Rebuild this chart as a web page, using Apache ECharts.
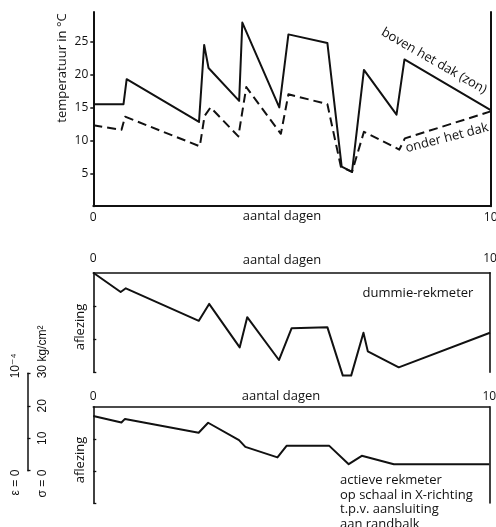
<!DOCTYPE html>
<html><head><meta charset="utf-8">
<script src="https://cdn.jsdelivr.net/npm/echarts@6/dist/echarts.min.js"></script>
<style>html,body{margin:0;padding:0;background:#fff}#c{width:496px;height:527px}</style>
</head><body><div id="c"></div>
<script>
// ---- data ----
const daysBoven = [0, 0.76, 0.84, 2.66, 2.79, 2.9, 3.67, 3.75, 4.68, 4.91, 5.89, 6.25, 6.51, 6.81, 7.63, 7.83, 10];
const tempBoven = [15.5, 15.5, 19.3, 12.8, 24.5, 21.0, 16.0, 27.9, 15.0, 26.1, 24.8, 6.0, 5.2, 20.7, 13.9, 22.3, 14.6];
const daysOnder = [0, 0.71, 0.8, 2.68, 2.8, 2.95, 3.65, 3.85, 4.72, 4.91, 5.89, 6.23, 6.51, 6.81, 7.7, 7.84, 10];
const tempOnder = [12.3, 11.6, 13.6, 9.1, 13.7, 15.0, 10.6, 18.1, 11.0, 17.0, 15.5, 6.0, 5.2, 11.3, 8.6, 10.3, 14.4];
const daysDummie = [0, 0.69, 0.82, 2.66, 2.92, 3.69, 3.88, 4.68, 5.0, 5.9, 6.29, 6.5, 6.81, 6.92, 7.7, 10];
const readDummie = [0, 5.8, 4.7, 14.5, 9.4, 22.5, 13.4, 26.3, 16.7, 16.4, 31.0, 31.0, 18.1, 23.7, 28.5, 18.1];
const daysActief = [0, 0.71, 0.8, 2.66, 2.9, 3.68, 3.84, 4.65, 4.88, 5.96, 6.45, 6.78, 7.59, 10];
const readActief = [2.9, 4.9, 3.8, 8.1, 5.0, 10.4, 12.5, 15.8, 12.2, 12.2, 17.9, 15.3, 17.9, 17.9];
const tempTicks = [5, 10, 15, 20, 25];
const dayTicks = [0, 10];
const readTicks = [10, 20, 30];
const scaleTicks = [0, 10, 20, 30];
const scaleLabels = ['σ = 0', '10', '20', '30 kg/cm²'];

const INK = '#111';
const FONT = 'Open Sans';
const zip = (a, b) => a.map((v, i) => [v, b[i]]);

const chart = echarts.init(document.getElementById('c'));

const line = (w) => ({ show: true, onZero: false, lineStyle: { color: INK, width: w } });
const noSplit = { show: false };

const option = {
  animation: false,
  backgroundColor: '#fff',
  grid: [
    { left: 93.3, top: 12, width: 397.4, height: 194.2, outerBoundsMode: 'none' },
    { left: 93.3, top: 272.7, width: 396.7, height: 99.6, outerBoundsMode: 'none' },
    { left: 93.3, top: 406.7, width: 396, height: 96.3, outerBoundsMode: 'none' },
    { left: 27.5, top: 373.3, width: 10, height: 97.4, outerBoundsMode: 'none' }
  ],
  xAxis: [
    { gridIndex: 0, type: 'value', min: 0, max: 10, position: 'bottom', axisLine: line(2), splitLine: noSplit,
      axisTick: { show: false },
      axisLabel: { customValues: dayTicks, color: INK, fontFamily: FONT, fontSize: 12, margin: 5 } },
    { gridIndex: 1, type: 'value', min: 0, max: 10, position: 'top', axisLine: line(1.6), splitLine: noSplit,
      axisTick: { show: false },
      axisLabel: { customValues: dayTicks, color: INK, fontFamily: FONT, fontSize: 12, margin: 8 } },
    { gridIndex: 2, type: 'value', min: 0, max: 10, position: 'top', axisLine: line(1.6), splitLine: noSplit,
      axisTick: { show: false },
      axisLabel: { customValues: dayTicks, color: INK, fontFamily: FONT, fontSize: 12, margin: 4 } },
    { gridIndex: 3, type: 'value', min: 0, max: 1, show: false }
  ],
  yAxis: [
    { gridIndex: 0, type: 'value', min: 0, max: 29.5, position: 'left', axisLine: line(2), splitLine: noSplit,
      axisTick: { customValues: tempTicks, length: 3, lineStyle: { color: INK, width: 1.5 } },
      axisLabel: { customValues: tempTicks, color: INK, fontFamily: FONT, fontSize: 12, margin: 5 } },
    { gridIndex: 0, type: 'value', min: 0, max: 29.5, position: 'right', axisLine: line(2), splitLine: noSplit,
      axisTick: { show: false }, axisLabel: { show: false } },
    { gridIndex: 1, type: 'value', min: 0, max: 30, inverse: true, position: 'left', axisLine: line(1.6), splitLine: noSplit,
      axisTick: { customValues: readTicks, inside: true, length: 3, lineStyle: { color: INK, width: 1.3 } },
      axisLabel: { show: false } },
    { gridIndex: 1, type: 'value', min: 0, max: 30, inverse: true, position: 'right', axisLine: line(1.6), splitLine: noSplit,
      axisTick: { show: false }, axisLabel: { show: false } },
    { gridIndex: 2, type: 'value', min: 0, max: 30, inverse: true, position: 'left', axisLine: line(1.6), splitLine: noSplit,
      axisTick: { customValues: readTicks, inside: true, length: 3, lineStyle: { color: INK, width: 1.3 } },
      axisLabel: { show: false } },
    { gridIndex: 2, type: 'value', min: 0, max: 30, inverse: true, position: 'right', axisLine: line(1.6), splitLine: noSplit,
      axisTick: { show: false }, axisLabel: { show: false } },
    { gridIndex: 3, type: 'value', min: 0, max: 30, position: 'left', axisLine: line(1.5), splitLine: noSplit,
      axisTick: { customValues: scaleTicks, inside: true, length: 3, lineStyle: { color: INK, width: 1.3 } },
      axisLabel: { show: false } }
  ],
  series: [
    { name: 'boven het dak (zon)', type: 'line', xAxisIndex: 0, yAxisIndex: 0, data: zip(daysBoven, tempBoven),
      symbol: 'none', lineStyle: { color: INK, width: 2, join: 'round' } },
    { name: 'onder het dak', type: 'line', xAxisIndex: 0, yAxisIndex: 0, data: zip(daysOnder, tempOnder),
      symbol: 'none', lineStyle: { color: INK, width: 2, type: [9, 5], join: 'round' } },
    { name: 'dummie-rekmeter', type: 'line', xAxisIndex: 1, yAxisIndex: 2, data: zip(daysDummie, readDummie),
      symbol: 'none', clip: false, lineStyle: { color: INK, width: 2, join: 'round' } },
    { name: 'actieve rekmeter', type: 'line', xAxisIndex: 2, yAxisIndex: 4, data: zip(daysActief, readActief),
      symbol: 'none', clip: false, lineStyle: { color: INK, width: 2, join: 'round' } }
  ]
};
chart.setOption(option);

const txt = (text, x, y, opts) => Object.assign({
  type: 'text', x, y, silent: true,
  style: Object.assign({ text, fill: INK, font: '13px "' + FONT + '"', align: 'center', verticalAlign: 'middle' }, (opts && opts.style) || {})
}, opts && opts.rotation !== undefined ? { rotation: opts.rotation } : {});

const g = [
  txt('temperatuur in °C', 62, 68, { rotation: Math.PI / 2 }),
  txt('boven het dak (zon)', 434, 61, { rotation: -0.52 }),
  txt('onder het dak', 447, 138, { rotation: 0.255 }),
  txt('aantal dagen', 282, 216),
  txt('aantal dagen', 282, 260),
  txt('aantal dagen', 281, 396.5),
  txt('dummie-rekmeter', 418, 293),
  txt('aflezing', 80, 327, { rotation: Math.PI / 2 }),
  txt('aflezing', 80, 460, { rotation: Math.PI / 2 }),
  txt('actieve rekmeter\nop schaal in X-richting\nt.p.v. aansluiting\naan randbalk', 340, 472.6,
      { style: { align: 'left', verticalAlign: 'top', lineHeight: 14.8 } })
];
// scale bar labels, placed through the scale-bar axis
const sFont = '12px "Liberation Sans", "DejaVu Sans"';
scaleTicks.forEach((v, i) => {
  const py = chart.convertToPixel({ yAxisIndex: 6 }, v);
  let align = 'center', dy = 0;
  if (i === 0) { align = 'right'; dy = -1; }
  if (i === scaleTicks.length - 1) { align = 'left'; dy = 5; }
  g.push(txt(scaleLabels[i], 43, py + dy, { rotation: Math.PI / 2, style: { align, font: sFont } }));
});
const pTop = chart.convertToPixel({ yAxisIndex: 6 }, 30);
const pZero = chart.convertToPixel({ yAxisIndex: 6 }, 0);
g.push(txt('10⁻⁴', 16, pTop + 5, { rotation: Math.PI / 2, style: { align: 'left', font: sFont } }));
g.push(txt('ε = 0', 16, pZero - 1, { rotation: Math.PI / 2, style: { align: 'right', font: sFont } }));

chart.setOption({ graphic: g });
</script>
</body></html>
